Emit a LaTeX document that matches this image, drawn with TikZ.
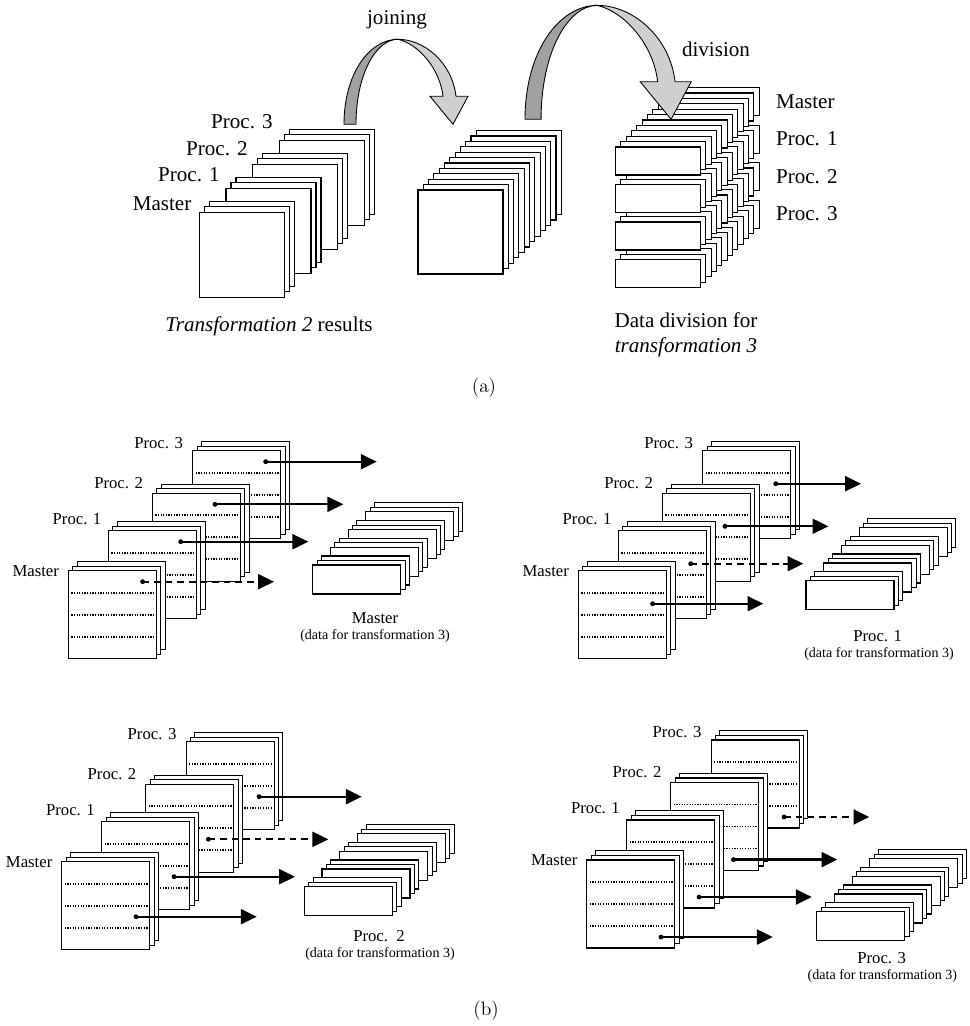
\documentclass[tikz,border=0pt]{standalone}
\usepackage{fontspec}
\newfontfamily\tms{Liberation Serif}
\usetikzlibrary{arrows.meta}

% the four result blocks of one panel, Master in front
\newcommand{\resultstack}[1]{%
  \foreach \g/\gx/\gy/\lab/\lx/\ly in {3/192.7/450.7/Proc. 3/183.3/442.7, 2/152.3/493.3/Proc. 2/143.3/482.7, 1/108.3/530.7/Proc. 1/101.7/519, 0/68.3/570.7/Master/59.3/570.7} {
    \foreach \s in {2,1,0}
      \draw[sheet] ({\gx+4.4*\s},{\gy-4.6*\s}) rectangle +(88,88);
    \foreach \r in {1,2,3}
      \draw[rowline] ({\gx+3},{\gy+22*\r}) -- +(83,0);
    \node[midtext, anchor=east] (#1-lab\g) at (\lx,\ly) {\lab};
  }%
}

% the strips one process receives
\newcommand{\slicestack}[2]{%
  \foreach \g in {3,2,1,0}
    \foreach \s in {2,1,0}
      \draw[sheet] ({#1+17.7*\g+4.4*\s},{#2-17.7*\g-4.5*\s}) rectangle +(88,29);%
}

% #1 prefix, #2 row sent, #3..#6 arrow ends for Master, Proc. 1, 2, 3
\newcommand{\sendrow}[6]{%
  \foreach \g/\gx/\gy/\ox/\tip in {0/68.3/570.7/74.3/#3, 1/108.3/530.7/72.4/#4, 2/152.3/493.3/62.7/#5, 3/192.7/450.7/73/#6} {
    \coordinate (#1-src\g) at ({\gx+\ox},{\gy+11+22*#2});
    \coordinate (#1-dst\g) at (\tip,{\gy+11+22*#2});
    \ifnum\g=#2 \draw[keep] (#1-src\g) -- (#1-dst\g); \else \draw[send] (#1-src\g) -- (#1-dst\g); \fi
    \fill (#1-src\g) circle[radius=1.4pt];
  }%
}

% gray bent arrow of part (a)
\newcommand{\bentarrow}[2]{%
  \begin{scope}[shift={#1}, scale=#2]
    \filldraw[bendback] (0,0) .. controls (0,-50) and (25,-85) .. (54,-85)
      .. controls (32,-85) and (12,-50) .. (12,0) -- cycle;
    \filldraw[bendfront] (54,-85) .. controls (80,-85) and (108,-62) .. (112,-28)
      -- (124,-28) -- (109,0) -- (86,-28) -- (99,-28)
      .. controls (96,-55) and (75,-80) .. (54,-85) -- cycle;
  \end{scope}%
}

\begin{document}
\begin{tikzpicture}[x=0.02cm,y=-0.02cm]
\tikzstyle{sheet}=[draw, fill=white, line width=0.6pt]
\tikzstyle{rowline}=[line width=1pt, dash pattern=on 0.7pt off 0.8pt]
\tikzstyle{bendback}=[fill=black!37, draw=black, line width=0.5pt]
\tikzstyle{bendfront}=[fill=black!19, draw=black, line width=0.5pt]
\tikzstyle{send}=[line width=1.3pt, -{Triangle[length=9pt,width=8.5pt]}]
\tikzstyle{keep}=[send, dash pattern=on 3.8pt off 2.8pt]
\tikzstyle{bigtext}=[inner sep=0pt, font=\tms\fontsize{12}{14}\selectfont]
\tikzstyle{midtext}=[inner sep=0pt, font=\tms\fontsize{9.5}{11}\selectfont]
\tikzstyle{smalltext}=[inner sep=0pt, font=\tms\fontsize{8}{9.5}\selectfont]
\tikzstyle{captext}=[inner sep=0pt, font=\fontsize{11}{13}\selectfont]

\useasboundingbox (0,0) rectangle (969,1026);

% (a) Transformation 2 results
\foreach \g in {3,2,1,0}
  \foreach \s in {2,1,0}
    \draw[sheet] ({199.3+26.7*\g+5*\s},{212.3-24*\g-5.5*\s}) rectangle +(85,85);

% joined data
\foreach \s in {11,10,...,0}
  \draw[sheet] ({418+5.3*\s},{190-5.4*\s}) rectangle +(85,84);

% divided data
\foreach \s in {11,10,...,0}
  \foreach \r in {0,1,2,3}
    \draw[sheet] ({615.3+5.36*\s},{147+37.5*\r-5.4*\s}) rectangle +(85,28);

\bentarrow{(344,124.3)}{1}
\bentarrow{(525,119.3)}{1.34}

\node[bigtext, anchor=east] (rmaster) at (191.7,203.3) {Master};
\node[bigtext, anchor=east] (rproc1) at (220,175) {Proc. 1};
\node[bigtext, anchor=east] (rproc2) at (248,148.3) {Proc. 2};
\node[bigtext, anchor=east] (rproc3) at (273,121.7) {Proc. 3};
\node[bigtext] (joining) at (397,20) {joining};
\node[bigtext] (division) at (716,49) {division};
\node[bigtext, anchor=west] (dmaster) at (775.7,101.7) {Master};
\node[bigtext, anchor=west] (dproc1) at (775.7,139) {Proc. 1};
\node[bigtext, anchor=west] (dproc2) at (775.7,177) {Proc. 2};
\node[bigtext, anchor=west] (dproc3) at (775.7,214) {Proc. 3};
\node[bigtext] (t2res) at (269,326.7) {\textit{Transformation 2} results};
\node[bigtext, align=center] (t3div) at (686,335) {Data division for\\\textit{transformation 3}};
\node[captext] (capa) at (484,387.3) {(a)};

% (b) Master
\begin{scope}[shift={(0,0)}]
\resultstack{m}
\slicestack{312.7}{565}
\sendrow{m}{0}{274}{308.3}{343.3}{376.7}
\node[midtext] (m-name) at (375,617.7) {Master};
\node[smalltext] (m-note) at (375,636) {(data for transformation 3)};
\end{scope}

% (b) Proc. 1
\begin{scope}[shift={(510,0)}]
\resultstack{pa}
\slicestack{296}{580.7}
\sendrow{pa}{1}{253.3}{293.3}{318.3}{351}
\node[midtext] (pa-name) at (367.7,636) {Proc. 1};
\node[smalltext] (pa-note) at (369,654.3) {(data for transformation 3)};
\end{scope}

% (b) Proc. 2
\begin{scope}[shift={(-6.6,291)}]
\resultstack{pb}
\slicestack{310.9}{595.7}
\sendrow{pb}{2}{263.3}{301.6}{334.9}{368.3}
\node[midtext] (pb-name) at (385.6,645) {Proc.\ \ 2};
\node[smalltext] (pb-note) at (386.6,663) {(data for transformation 3)};
\end{scope}

% (b) Proc. 3
\begin{scope}[shift={(518.4,289.3)}]
\resultstack{pc}
\slicestack{298.3}{622.4}
\sendrow{pc}{3}{254.3}{293.3}{318.9}{350.9}
\node[midtext] (pc-name) at (363.3,668.4) {Proc. 3};
\node[smalltext] (pc-note) at (364,686.7) {(data for transformation 3)};
\end{scope}

\node[captext] (capb) at (486,1010.7) {(b)};
\end{tikzpicture}
\end{document}
